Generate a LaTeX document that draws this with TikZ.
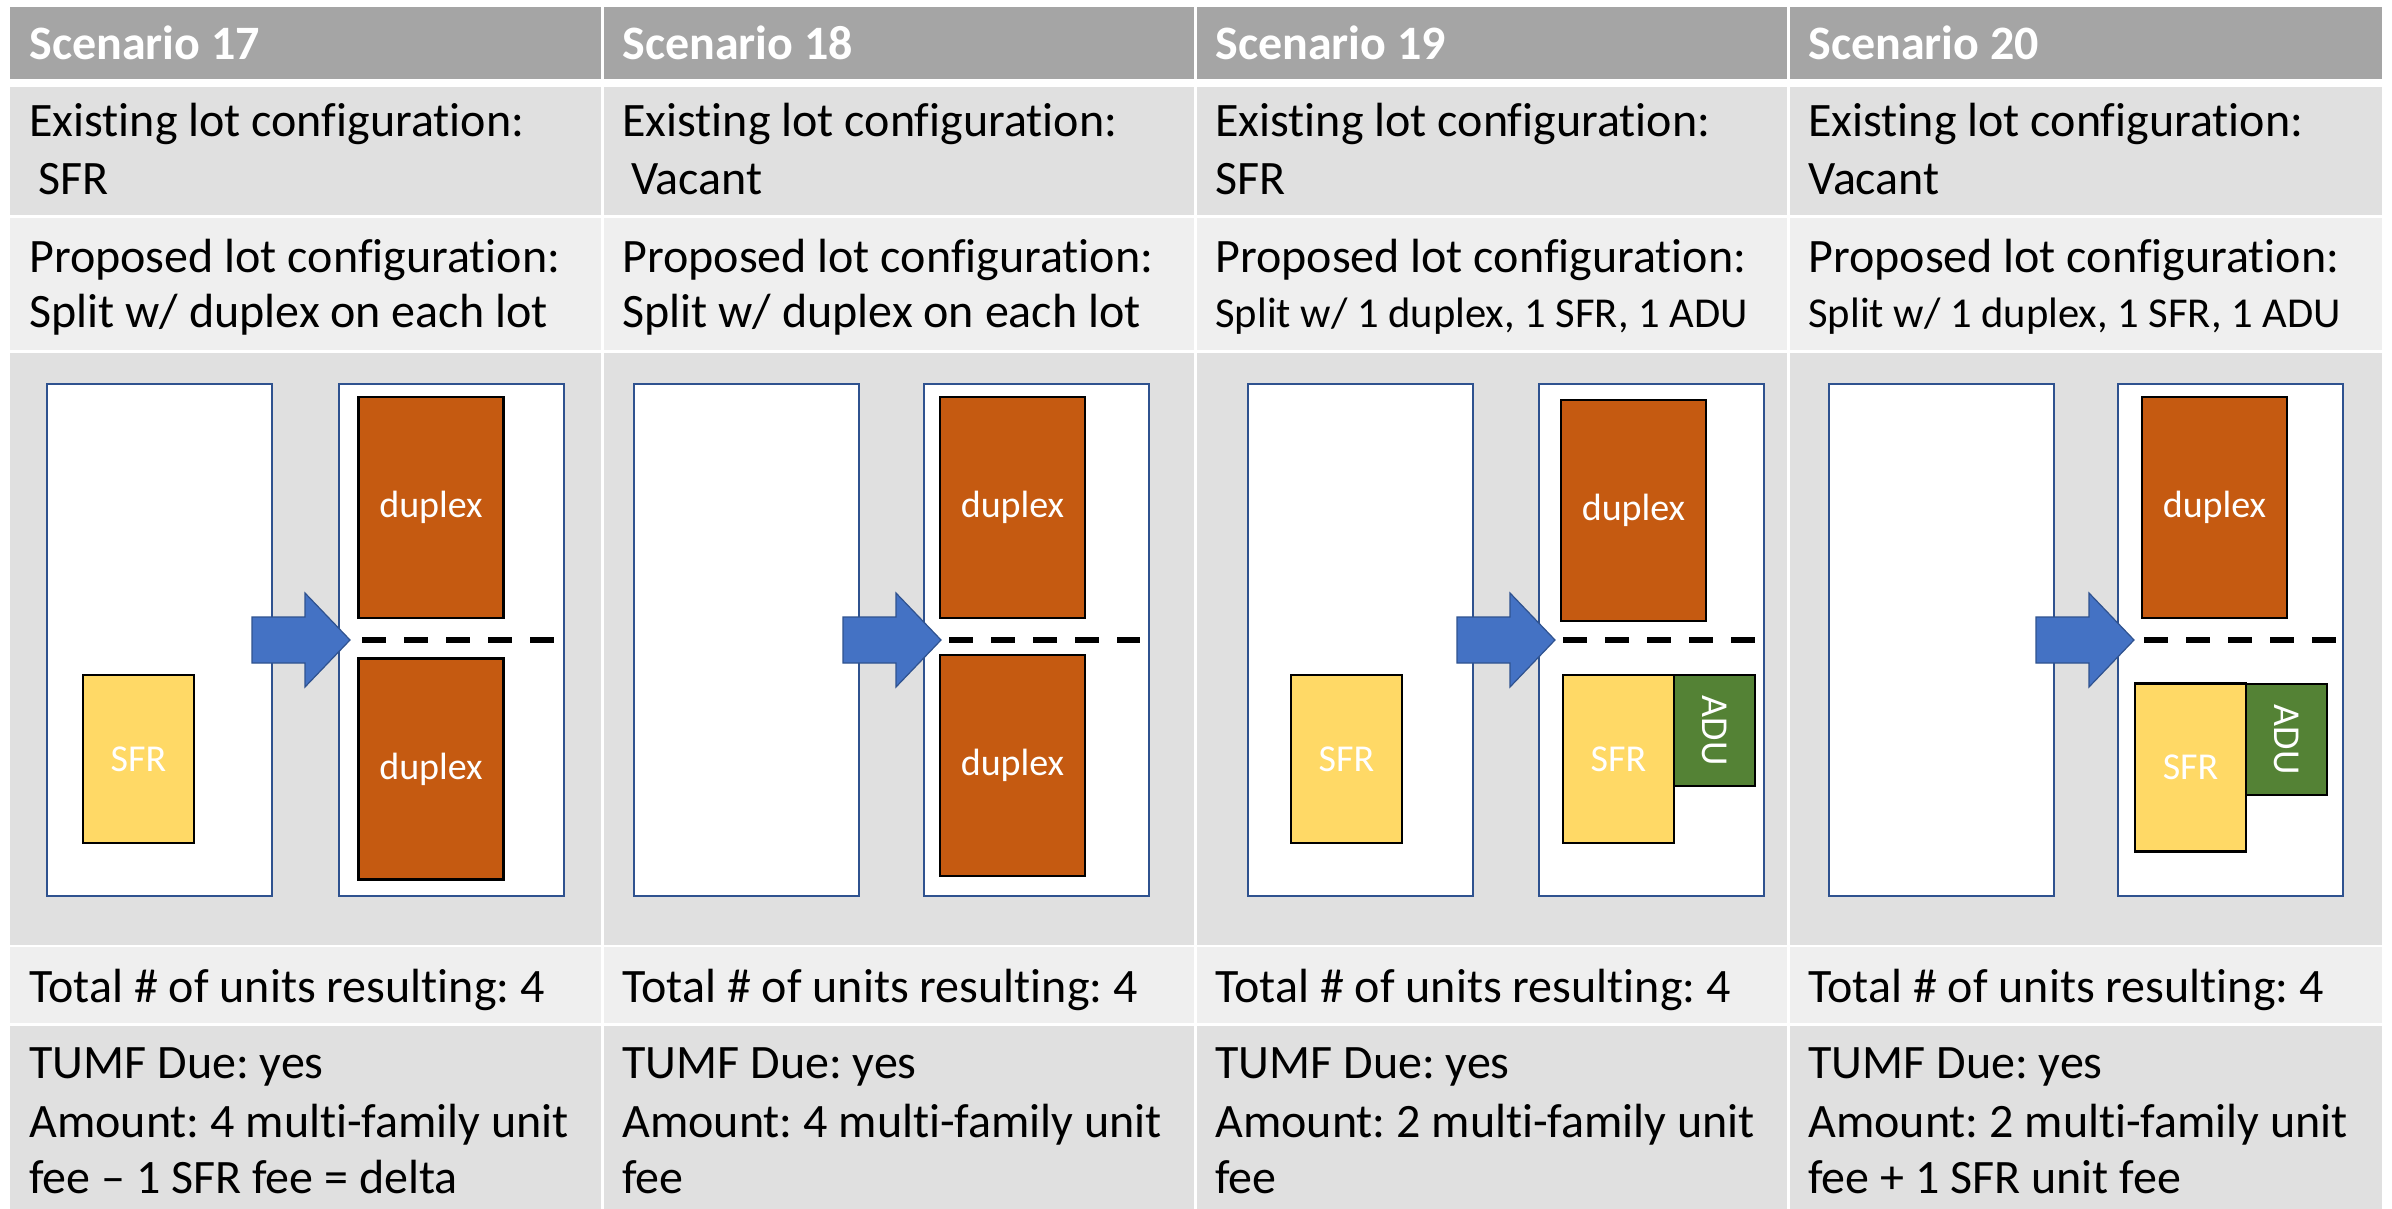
\documentclass[tikz,border=0pt]{standalone}
\usepackage{fontspec}
\setmainfont{Carlito}[Ligatures={TeX,NoCommon}]
\usepackage{tikz}
\frenchspacing
\definecolor{hdrgray}{HTML}{A5A5A5}
\definecolor{banddark}{HTML}{E0E0E0}
\definecolor{bandlight}{HTML}{EFEFEF}
\definecolor{duporange}{HTML}{C55A11}
\definecolor{sfryellow}{HTML}{FFD966}
\definecolor{adugreen}{HTML}{548235}
\definecolor{arrowblue}{HTML}{4472C4}
\definecolor{edgeblue}{HTML}{2F528F}

\begin{document}
\begin{tikzpicture}[x=0.5pt,y=-0.5pt,
    txt/.style={anchor=base west,inner sep=0pt,font=\fontsize{24}{29}\selectfont},
    smalltxt/.style={txt,font=\fontsize{21.3}{26}\selectfont},
    hdr/.style={txt,text=white,font=\fontsize{24}{29}\selectfont\bfseries},
    lot/.style={draw=edgeblue,line width=1pt,fill=white,minimum width=112.5pt,minimum height=256pt,inner sep=0pt},
    bldg/.style={draw=black,line width=1.4pt,text=white,inner sep=0pt,font=\fontsize{19}{23}\selectfont},
    duplex/.style={bldg,fill=duporange,minimum width=72.5pt,minimum height=110.5pt},
    sfr/.style={bldg,fill=sfryellow,minimum width=55.5pt,minimum height=84pt},
    adu/.style={bldg,fill=adugreen,minimum width=40.5pt,minimum height=55.5pt},
    lbl/.style={text=white,inner sep=0pt,font=\fontsize{19}{23}\selectfont},
    splitline/.style={line width=3pt,dash pattern=on 12pt off 9pt},
    bigarrow/.style={fill=arrowblue,draw=edgeblue,line width=0.6pt}]
    \useasboundingbox (0,0) rectangle (2392,1209);
    \fill[white] (0,0) rectangle (2392,1209);
    \fill[hdrgray] (10,7) rectangle (2382,79);
    \fill[banddark] (10,87) rectangle (2382,215);
    \fill[bandlight] (10,218) rectangle (2382,350);
    \fill[banddark] (10,353) rectangle (2382,945);
    \fill[bandlight] (10,947) rectangle (2382,1023);
    \fill[banddark] (10,1026) rectangle (2382,1209);
    \foreach \sx in {602,1195,1788}
      \draw[white,line width=1.5pt] (\sx,7) -- (\sx,1209);
    \foreach \cx/\num [count=\i] in {10/17,603/18,1196/19,1789/20} {
      \node[hdr] (head\i) at (\cx+19,60) {Scenario \num};
      \node[txt] (exist\i) at (\cx+19,137) {Existing lot configuration:};
      \node[txt] (prop\i) at (\cx+19,272) {Proposed lot configuration:};
      \node[txt] (total\i) at (\cx+19,1002) {Total \# of units resulting: 4};
      \node[txt] (tumf\i) at (\cx+19,1078) {TUMF Due: yes};
    }
    \node[txt] (old1) at (38,195) {SFR};
    \node[txt] (old2) at (631,195) {Vacant};
    \node[txt] (old3) at (1215,195) {SFR};
    \node[txt] (old4) at (1808,195) {Vacant};
    \node[txt] (new1) at (29,328) {Split w/ duplex on each lot};
    \node[txt] (new2) at (622,328) {Split w/ duplex on each lot};
    \node[smalltxt] (new3) at (1215,328) {Split w/ 1 duplex, 1 SFR, 1 ADU};
    \node[smalltxt] (new4) at (1808,328) {Split w/ 1 duplex, 1 SFR, 1 ADU};
    \node[txt] (amt1) at (29,1137) {Amount: 4 multi-family unit};
    \node[txt] (amt2) at (622,1137) {Amount: 4 multi-family unit};
    \node[txt] (amt3) at (1215,1137) {Amount: 2 multi-family unit};
    \node[txt] (amt4) at (1808,1137) {Amount: 2 multi-family unit};
    \node[txt] (fee1) at (29,1193) {fee – 1 SFR fee = delta};
    \node[txt] (fee2) at (622,1193) {fee};
    \node[txt] (fee3) at (1215,1193) {fee};
    \node[txt] (fee4) at (1808,1193) {fee + 1 SFR unit fee};
    % lots before and after the split
    \node[lot] (before1) at (159.5,640) {};
    \node[lot] (after1) at (451,640) {};
    \node[lot] (before2) at (746,640) {};
    \node[lot] (after2) at (1036.5,640) {};
    \node[lot] (before3) at (1360.5,640) {};
    \node[lot] (after3) at (1651.5,640) {};
    \node[lot] (before4) at (1941.5,640) {};
    \node[lot] (after4) at (2230,640) {};
    \node[sfr] (house1) at (138.5,759) {SFR};
    \node[duplex] (dupa1) at (431,507.5) {duplex};
    \node[duplex] (dupb1) at (431,769) {duplex};
    \node[duplex] (dupa2) at (1012.5,507.5) {duplex};
    \node[duplex] (dupb2) at (1012.5,765.5) {duplex};
    \node[sfr] (house3) at (1346.5,759) {SFR};
    \node[duplex] (dupa3) at (1633.5,510.5) {duplex};
    \node[sfr] (sfr3) at (1618.5,759) {SFR};
    \node[adu] (adu3) at (1714.5,730.5) {};
    \node[lbl,rotate=-90] at (adu3) {ADU};
    \node[duplex] (dupa4) at (2214.5,507.5) {duplex};
    \node[sfr] (sfr4) at (2190.5,767.5) {SFR};
    \node[adu] (adu4) at (2286.5,739.5) {};
    \node[lbl,rotate=-90] at (adu4) {ADU};
    \draw[splitline] (362,640) -- (554,640);
    \draw[splitline] (949,640) -- (1140,640);
    \draw[splitline] (1563,640) -- (1755,640);
    \draw[splitline] (2144,640) -- (2336,640);
    \foreach \tx in {350,941,1555,2134}
      \filldraw[bigarrow] (\tx,640) -- ++(-45,-47) -- ++(0,24) -- ++(-53,0)
        -- ++(0,46) -- ++(53,0) -- ++(0,24) -- cycle;
\end{tikzpicture}
\end{document}
